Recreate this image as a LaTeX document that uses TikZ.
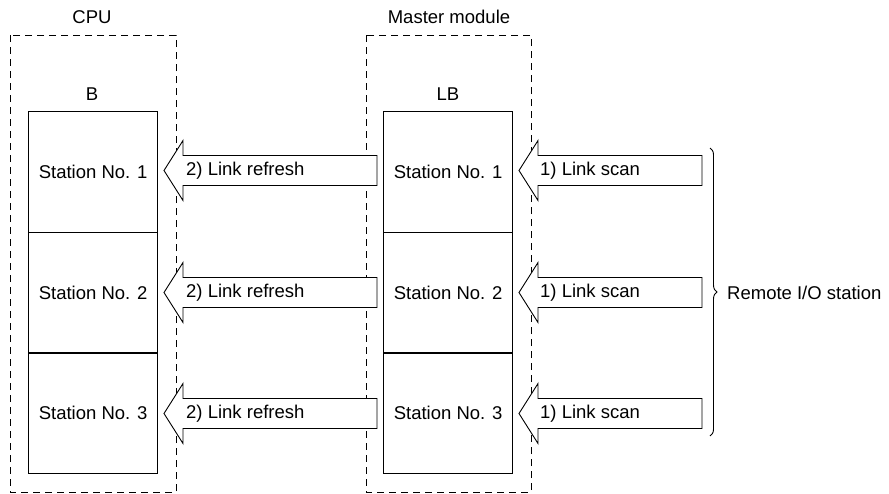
\documentclass[tikz,border=0pt]{standalone}
\usepackage{fontspec}
\setmainfont{Liberation Sans}
\usetikzlibrary{decorations.pathreplacing}
\tikzset{
  group/.style={draw, line width=0.9pt, dash pattern=on 7pt off 5pt},
  stationbox/.style={draw, line width=1.3pt, minimum width=129pt, minimum height=120.7pt, inner sep=0pt, anchor=north west, font=\fontsize{18.5}{20}\selectfont},
  fat/.style={draw, line width=0.9pt, fill=white, line join=miter},
  lbl/.style={font=\fontsize{18.5}{20}\selectfont, inner sep=0pt},
  brc/.style={draw, line width=0.9pt, decorate, decoration={brace, amplitude=7pt, aspect=0.5}}
}
\begin{document}
\begin{tikzpicture}[x=1pt,y=-1pt]
\useasboundingbox (0,0) rectangle (889,493);
% dashed groups
\draw[group] (10,35) rectangle (176,492);
\draw[group] (366,35) rectangle (531,492);
\node[lbl] (cpu) at (92,17) {CPU};
\node[lbl] (mm) at (449,17) {Master module};
\node[lbl] (bl) at (92,94) {B};
\node[lbl] (lbl) at (448,94) {LB};
% station boxes
\foreach \i/\y in {1/111,2/231.7,3/352.3}{
  \node[stationbox] (b\i) at (28,\y) {Station No. \i};
  \node[stationbox] (lb\i) at (383,\y) {Station No. \i};
}
% fat arrows
\foreach \i/\ty in {1/170.5,2/292.5,3/413.5}{
  \coordinate (rt\i) at (164,\ty);
  \coordinate (st\i) at (519,\ty);
  \draw[fat] (rt\i) -- (183,\ty-30) -- (183,\ty-15) -- (377,\ty-15) -- (377,\ty+15) -- (183,\ty+15) -- (183,\ty+30) -- cycle;
  \node[lbl, anchor=west] (rl\i) at ([xshift=22pt]rt\i) {2) Link refresh};
  \draw[fat] (st\i) -- (538,\ty-30) -- (538,\ty-15) -- (702,\ty-15) -- (702,\ty+15) -- (538,\ty+15) -- (538,\ty+30) -- cycle;
  \node[lbl, anchor=west] (sl\i) at ([xshift=21pt]st\i) {1) Link scan};
}
% brace
\coordinate (bt) at (710,148);
\coordinate (bb) at (710,436);
\draw[brc] (bt) -- (bb);
\node[lbl, anchor=west] (rio) at (727,292.5) {Remote I/O station};
\end{tikzpicture}
\end{document}
